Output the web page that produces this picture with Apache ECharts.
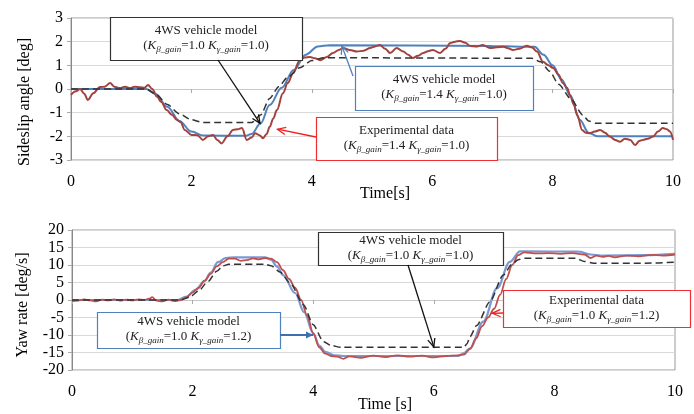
<!DOCTYPE html>
<html>
<head>
<meta charset="utf-8">
<title>Sideslip angle / Yaw rate</title>
<script src="https://cdn.jsdelivr.net/npm/echarts@6/dist/echarts.min.js"></script>
<style>
  html, body { margin: 0; padding: 0; background: #fff; }
  #main { width: 694px; height: 414px; }
</style>
</head>
<body>
<div id="main"></div>
<script>
// ---- top chart: sideslip angle [deg] ----
var betaModelT = [0, 1.25, 1.4, 1.6, 1.8, 2.0, 2.2, 2.9, 3.0, 3.15, 3.3, 3.5, 3.7, 3.9, 4.1, 4.3, 7.0, 7.7, 7.85, 8.0, 8.15, 8.3, 8.45, 8.6, 8.75, 10];
var betaModelV = [0, 0, -0.2, -0.75, -1.35, -1.8, -1.97, -1.98, -1.9, -1.45, -0.68, 0.05, 0.8, 1.45, 1.8, 1.85, 1.82, 1.78, 1.45, 1.0, 0.4, -0.3, -1.3, -1.85, -2.0, -2.0];

var betaBaseT = [0, 1.25, 1.4, 1.6, 1.8, 2.0, 2.2, 3.0, 3.15, 3.3, 3.45, 3.6, 3.8, 4.0, 4.2, 7.65, 7.8, 7.95, 8.1, 8.3, 8.5, 8.6, 8.72, 10];
var betaBaseV = [0, 0, -0.2, -0.65, -1.05, -1.3, -1.42, -1.42, -1.1, -0.4, 0.1, 0.5, 0.9, 1.2, 1.32, 1.3, 1.15, 0.75, 0.2, -0.4, -1.1, -1.35, -1.45, -1.45];

var betaExpT = [0, 0.08, 0.15, 0.22, 0.28, 0.37, 0.48, 0.56, 0.65, 0.72, 0.81, 0.9, 0.98, 1.06, 1.15, 1.22, 1.28, 1.35, 1.43, 1.5, 1.59, 1.68, 1.76, 1.82, 1.89, 2.0, 2.1, 2.19, 2.28, 2.36, 2.43, 2.5, 2.6, 2.69, 2.77, 2.84, 2.92, 3.0, 3.06, 3.13, 3.19, 3.25, 3.3, 3.36, 3.42, 3.52, 3.6, 3.69, 3.8, 3.88, 3.97, 4.05, 4.14, 4.25, 4.35, 4.45, 4.52, 4.63, 4.75, 4.86, 4.97, 5.05, 5.13, 5.22, 5.3, 5.41, 5.52, 5.6, 5.68, 5.76, 5.85, 5.93, 6.01, 6.13, 6.22, 6.3, 6.38, 6.46, 6.55, 6.63, 6.75, 6.84, 6.96, 7.07, 7.18, 7.26, 7.34, 7.45, 7.57, 7.66, 7.74, 7.84, 7.93, 8.01, 8.1, 8.17, 8.24, 8.29, 8.35, 8.41, 8.49, 8.55, 8.62, 8.7, 8.79, 8.87, 8.95, 9.04, 9.12, 9.2, 9.29, 9.37, 9.44, 9.5, 9.58, 9.67, 9.75, 9.83, 9.9, 9.95, 10];
var betaExpV = [-0.25, -0.1, 0, -0.2, -0.46, -0.18, 0.08, 0.1, 0.25, 0.1, 0.04, 0.1, 0.04, 0.1, 0.07, 0.05, 0.17, 0, -0.33, -0.55, -0.89, -1.1, -1.31, -1.4, -1.73, -1.94, -1.95, -2.15, -2.0, -1.94, -2.15, -2.3, -2.0, -1.73, -1.7, -1.65, -2.15, -2.05, -1.87, -1.95, -2.08, -1.9, -1.6, -1.25, -0.89, -0.18, 0.25, 0.67, 1.22, 1.33, 1.35, 1.3, 1.22, 1.35, 1.52, 1.65, 1.73, 1.65, 1.58, 1.62, 1.73, 1.8, 1.86, 1.7, 1.52, 1.73, 1.58, 1.45, 1.31, 1.4, 1.52, 1.6, 1.65, 1.52, 1.7, 1.94, 2.0, 2.03, 1.95, 1.82, 1.8, 1.86, 1.73, 1.76, 1.79, 1.72, 1.65, 1.7, 1.83, 1.75, 1.58, 1.15, 1.0, 0.89, 0.6, 0.25, 0.05, -0.25, -0.65, -1.1, -1.73, -1.85, -1.87, -1.8, -1.73, -1.85, -2.01, -2.15, -2.23, -2.1, -2.15, -2.37, -2.2, -2.15, -2.1, -2.01, -1.8, -1.65, -1.7, -1.8, -2.15];

// ---- bottom chart: yaw rate [deg/s] ----
var yawModelT = [0, 1.75, 1.9, 2.05, 2.2, 2.3, 2.42, 2.55, 2.7, 3.2, 3.3, 3.4, 3.5, 3.7, 3.85, 4.0, 4.1, 4.2, 4.35, 4.5, 6.4, 6.5, 6.6, 6.82, 7.05, 7.26, 7.43, 7.55, 8.4, 8.6, 8.8, 9.5, 10];
var yawModelV = [0, 0, 1.0, 2.9, 5.5, 7.8, 10.8, 12.0, 12.2, 12.2, 11.5, 9.6, 7.1, 2.0, -3.5, -9.5, -13.0, -14.8, -15.8, -16.0, -16.0, -15.2, -13.8, -6.2, 3.4, 10.9, 13.9, 13.9, 13.8, 13.0, 12.7, 12.8, 13.2];

var yawBaseT = [0, 1.8, 1.95, 2.1, 2.25, 2.4, 2.5, 2.6, 3.2, 3.3, 3.45, 3.62, 3.84, 4.0, 4.17, 4.3, 4.45, 6.5, 6.55, 6.6, 6.71, 6.93, 7.15, 7.3, 7.4, 7.5, 8.35, 8.5, 8.65, 9.5, 10];
var yawBaseV = [0, 0, 0.8, 2.6, 5.2, 8.2, 9.7, 10.2, 10.2, 9.8, 8.0, 4.8, -1.4, -7.1, -11.9, -13.0, -13.5, -13.5, -12.5, -10.5, -7.3, -0.5, 7.1, 10.3, 11.5, 11.9, 11.9, 11.0, 10.5, 10.5, 10.8];

var yawExpT = [0, 0.1, 0.2, 0.3, 0.4, 0.5, 0.6, 0.7, 0.8, 0.9, 1.0, 1.1, 1.2, 1.28, 1.33, 1.4, 1.5, 1.6, 1.7, 1.8, 1.9, 2.0, 2.1, 2.2, 2.3, 2.4, 2.5, 2.6, 2.7, 2.8, 2.9, 3.0, 3.1, 3.2, 3.3, 3.4, 3.5, 3.6, 3.7, 3.8, 3.9, 4.0, 4.1, 4.2, 4.3, 4.4, 4.5, 4.6, 4.8, 5.0, 5.2, 5.4, 5.6, 5.8, 6.0, 6.2, 6.4, 6.5, 6.6, 6.7, 6.8, 6.9, 7.0, 7.1, 7.2, 7.3, 7.4, 7.5, 7.7, 7.9, 8.1, 8.3, 8.5, 8.6, 8.7, 8.8, 8.9, 9.0, 9.2, 9.4, 9.6, 9.8, 10];
var yawExpV = [-0.3, -0.2, 0.2, -0.1, -0.4, 0.1, -0.1, 0.2, -0.2, 0.1, -0.1, 0.2, 0, 0.4, 0.8, -0.2, -0.4, 0.1, -0.3, 0, 0.8, 2.2, 3.5, 5.5, 7.5, 9.6, 10.8, 11.8, 11.8, 11.2, 11.4, 11.9, 11.6, 12.0, 11.8, 10.8, 8.5, 6.0, 3.5, 0, -4.5, -9.5, -13.5, -15.3, -16.0, -16.2, -16.8, -16.1, -16.5, -15.9, -16.3, -15.8, -16.2, -15.9, -16.4, -16.0, -15.8, -15.6, -14.0, -11.0, -7.5, -5.0, -2.5, 1.5, 6.0, 10.0, 12.8, 13.6, 13.3, 13.4, 13.2, 13.4, 13.0, 12.0, 12.7, 12.3, 12.6, 12.2, 12.7, 12.5, 12.9, 12.7, 13.0];

function pairs(t, v) {
  var out = [];
  for (var i = 0; i < t.length; i++) out.push([t[i], v[i]]);
  return out;
}

var FONT = '"Liberation Serif", "Times New Roman", serif';
var BLUE = '#4f81bd';

function zeroAxis(grid) {
  return {
    type: 'value', gridIndex: grid, min: 0, max: 10, interval: 2,
    axisLine: { onZero: true, lineStyle: { color: '#c8c8c8', width: 1 } },
    axisTick: { show: true, length: 4, lineStyle: { color: '#aaa' } },
    axisLabel: { show: false },
    splitLine: { show: false }
  };
}
function labelAxis(grid) {
  return {
    type: 'value', gridIndex: grid, min: 0, max: 10, interval: 2, position: 'bottom',
    axisLine: { show: false, onZero: false },
    axisTick: { show: false },
    axisLabel: { fontFamily: FONT, fontSize: 16, color: '#000', margin: 14 },
    splitLine: { show: false }
  };
}
function yAx(grid, min, max, step) {
  return {
    type: 'value', gridIndex: grid, min: min, max: max, interval: step,
    axisLine: { show: true, lineStyle: { color: '#888' } },
    axisTick: { show: true, length: 4, lineStyle: { color: '#aaa' } },
    axisLabel: { fontFamily: FONT, fontSize: 16, color: '#000', margin: 8 },
    splitLine: { lineStyle: { color: '#d9d9d9' } }
  };
}
function line(name, xi, yi, data, color, width, dashed) {
  return {
    name: name, type: 'line', xAxisIndex: xi, yAxisIndex: yi, data: data,
    showSymbol: false, smooth: dashed ? 0.25 : 0.35, smoothMonotone: 'x',
    lineStyle: { color: color, width: width, type: dashed ? [7, 4] : 'solid' },
    z: dashed ? 4 : 3
  };
}

var chart = echarts.init(document.getElementById('main'));
chart.setOption({
  animation: false,
  grid: [
    { left: 71, top: 18, right: 21, height: 142, show: true, borderColor: '#999', borderWidth: 1 },
    { left: 72, top: 230, right: 19, height: 140, show: true, borderColor: '#999', borderWidth: 1 }
  ],
  xAxis: [zeroAxis(0), labelAxis(0), zeroAxis(1), labelAxis(1)],
  yAxis: [yAx(0, -3, 3, 1), yAx(1, -20, 20, 5)],
  series: [
    line('4WS model 1.4/1.0', 1, 0, pairs(betaModelT, betaModelV), BLUE, 2, false),
    line('Experimental', 1, 0, pairs(betaExpT, betaExpV), '#a2423e', 2, false),
    line('4WS model 1.0/1.0', 1, 0, pairs(betaBaseT, betaBaseV), '#333', 1.5, true),
    line('4WS model 1.0/1.2', 3, 1, pairs(yawModelT, yawModelV), '#7b9ad3', 2.2, false),
    line('Experimental', 3, 1, pairs(yawExpT, yawExpV), '#c0504d', 1.8, false),
    line('4WS model 1.0/1.0', 3, 1, pairs(yawBaseT, yawBaseV), '#333', 1.5, true)
  ]
});

// ---- annotations ----
function gainText(a, b) {
  return '{n|(}{k|K}{s|β_gain}{n|=' + a + ' }{k|K}{s|γ_gain}{n|=' + b + ')}';
}
var rich = {
  n: { fontFamily: FONT, fontSize: 13, fill: '#222' },
  k: { fontFamily: FONT, fontSize: 13, fontStyle: 'italic', fill: '#222' },
  s: { fontFamily: FONT, fontSize: 9, fontStyle: 'italic', fill: '#222', padding: [8, 0, 0, 0] }
};
function box(x, y, w, h, color, title, sub) {
  return [
    { type: 'rect', shape: { x: x + 0.5, y: y + 0.5, width: w, height: h },
      style: { fill: '#fff', stroke: color, lineWidth: 1.2 }, z: 10 },
    { type: 'text', x: x + w / 2, y: y + h / 2 - 8, z: 11,
      style: { text: title, font: '13px ' + FONT, fill: '#222', align: 'center', verticalAlign: 'middle' } },
    { type: 'text', x: x + w / 2, y: y + h / 2 + 7, z: 11,
      style: { text: sub, rich: rich, align: 'center', verticalAlign: 'middle' } }
  ];
}
function arrow(from, grid, tipData, color, width, filled) {
  var tip = chart.convertToPixel({ gridIndex: grid }, tipData);
  var ang = Math.atan2(tip[1] - from[1], tip[0] - from[0]);
  var L = filled ? 8 : 9, a = filled ? 0.45 : 0.42;
  var p1 = [tip[0] - L * Math.cos(ang - a), tip[1] - L * Math.sin(ang - a)];
  var p2 = [tip[0] - L * Math.cos(ang + a), tip[1] - L * Math.sin(ang + a)];
  var els = [{ type: 'line', z: 12, shape: { x1: from[0], y1: from[1], x2: tip[0], y2: tip[1] },
    style: { stroke: color, lineWidth: width } }];
  if (filled) {
    els.push({ type: 'polygon', z: 12, shape: { points: [tip, p1, p2] }, style: { fill: color } });
  } else {
    els.push({ type: 'polyline', z: 12, shape: { points: [p1, tip, p2] }, style: { stroke: color, lineWidth: width, fill: null } });
  }
  return els;
}
function label(text, x, y, rot) {
  return { type: 'text', x: x, y: y, rotation: rot || 0, z: 11,
    style: { text: text, font: '16px ' + FONT, fill: '#000', align: 'center', verticalAlign: 'middle' } };
}

var g = [];
g.push(label('Sideslip angle [deg]', 25, 102, Math.PI / 2));
g.push(label('Yaw rate [deg/s]', 23, 305, Math.PI / 2));
g.push(label('Time[s]', 385, 194));
g.push(label('Time [s]', 385, 405));

g = g.concat(arrow([218, 60], 0, [3.14, -1.45], '#111', 1.3, false));
g = g.concat(box(110, 17, 192, 43, '#333', '4WS vehicle model', gainText('1.0', '1.0')));
g = g.concat(arrow([353, 76], 0, [4.5, 1.82], BLUE, 1.3, false));
g = g.concat(box(355, 66, 178, 44, BLUE, '4WS vehicle model', gainText('1.4', '1.0')));
g = g.concat(arrow([316, 137], 0, [3.43, -1.7], '#f02020', 1.3, false));
g = g.concat(box(316, 117, 181, 43, '#f03030', 'Experimental data', gainText('1.4', '1.0')));

g = g.concat(arrow([408, 265], 1, [6.0, -13.4], '#111', 1.3, false));
g = g.concat(box(318, 232, 185, 33, '#333', '4WS vehicle model', gainText('1.0', '1.0')));
g = g.concat(arrow([280, 335], 1, [4.0, -10], '#3f6fb0', 2, true));
g = g.concat(box(97, 312, 183, 36, BLUE, '4WS vehicle model', gainText('1.0', '1.2')));
g = g.concat(arrow([503, 313], 1, [6.97, -3.8], '#f02020', 1.3, false));
g = g.concat(box(503, 290, 187, 37, '#f03030', 'Experimental data', gainText('1.0', '1.2')));

chart.setOption({ graphic: g });
</script>
</body>
</html>
